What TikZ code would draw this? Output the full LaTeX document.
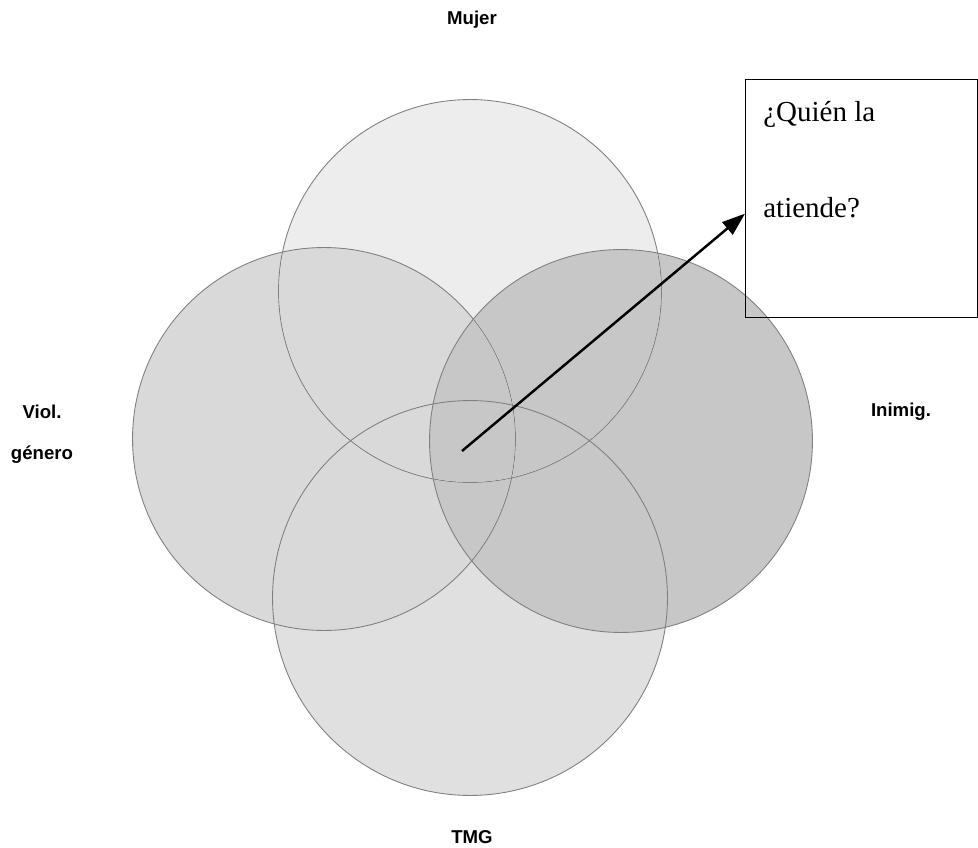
\documentclass[tikz,border=0pt]{standalone}
\usepackage{fontspec}
\setmainfont{Liberation Serif}
\setsansfont{Liberation Sans}
\usetikzlibrary{arrows.meta}

\begin{document}
\begin{tikzpicture}[x=0.02cm,y=-0.02cm,
	circulo/.style={circle,draw=black!50,line width=0.5pt,minimum size=7.66cm,inner sep=0pt},
	etiq/.style={font=\sffamily\bfseries\fontsize{10.6}{12}\selectfont},
	caja/.style={draw,line width=0.8pt,minimum width=4.64cm,minimum height=4.76cm,inner sep=0pt},
	pregunta/.style={font=\fontsize{16.5}{19}\selectfont,anchor=base west,inner sep=0pt}]
	\useasboundingbox (0,0) rectangle (978,848);
	%\draw[help lines] (0,0) grid[step=50] (978,848);

	%CIRCULOS
	\begin{scope}[blend group=darken]
		\node[circulo,fill=black!7]  (mujer)  at (470,291) {};
		\node[circulo,fill=black!15] (viol)   at (324,439) {};
		\node[circulo,fill=black!22] (inimig) at (621,441) {};
		\node[circulo,fill=black!12,minimum size=7.9cm] (tmg) at (470,598) {};
	\end{scope}

	%ETIQUETAS
	\node[etiq] (lmujer)  at (472,20)  {Mujer};
	\node[etiq] (lviol)   at (42,412)  {Viol.};
	\node[etiq] (lgenero) at (42,455)  {género};
	\node[etiq] (linimig) at (901,412) {Inimig.};
	\node[etiq] (ltmg)    at (472,837) {TMG};

	%CAJA
	\node[caja,anchor=north west] (quien) at (745,79) {};
	\node[pregunta] (q1) at (763,122) {¿Quién la};
	\node[pregunta] (q2) at (763,217) {atiende?};

	%FLECHA
	\coordinate (centro) at (462,451);
	\draw[line width=1.4pt,-{Triangle[length=0.46cm,width=0.32cm]}] (centro) -- ([yshift=-0.3cm]quien.west);
\end{tikzpicture}
\end{document}
